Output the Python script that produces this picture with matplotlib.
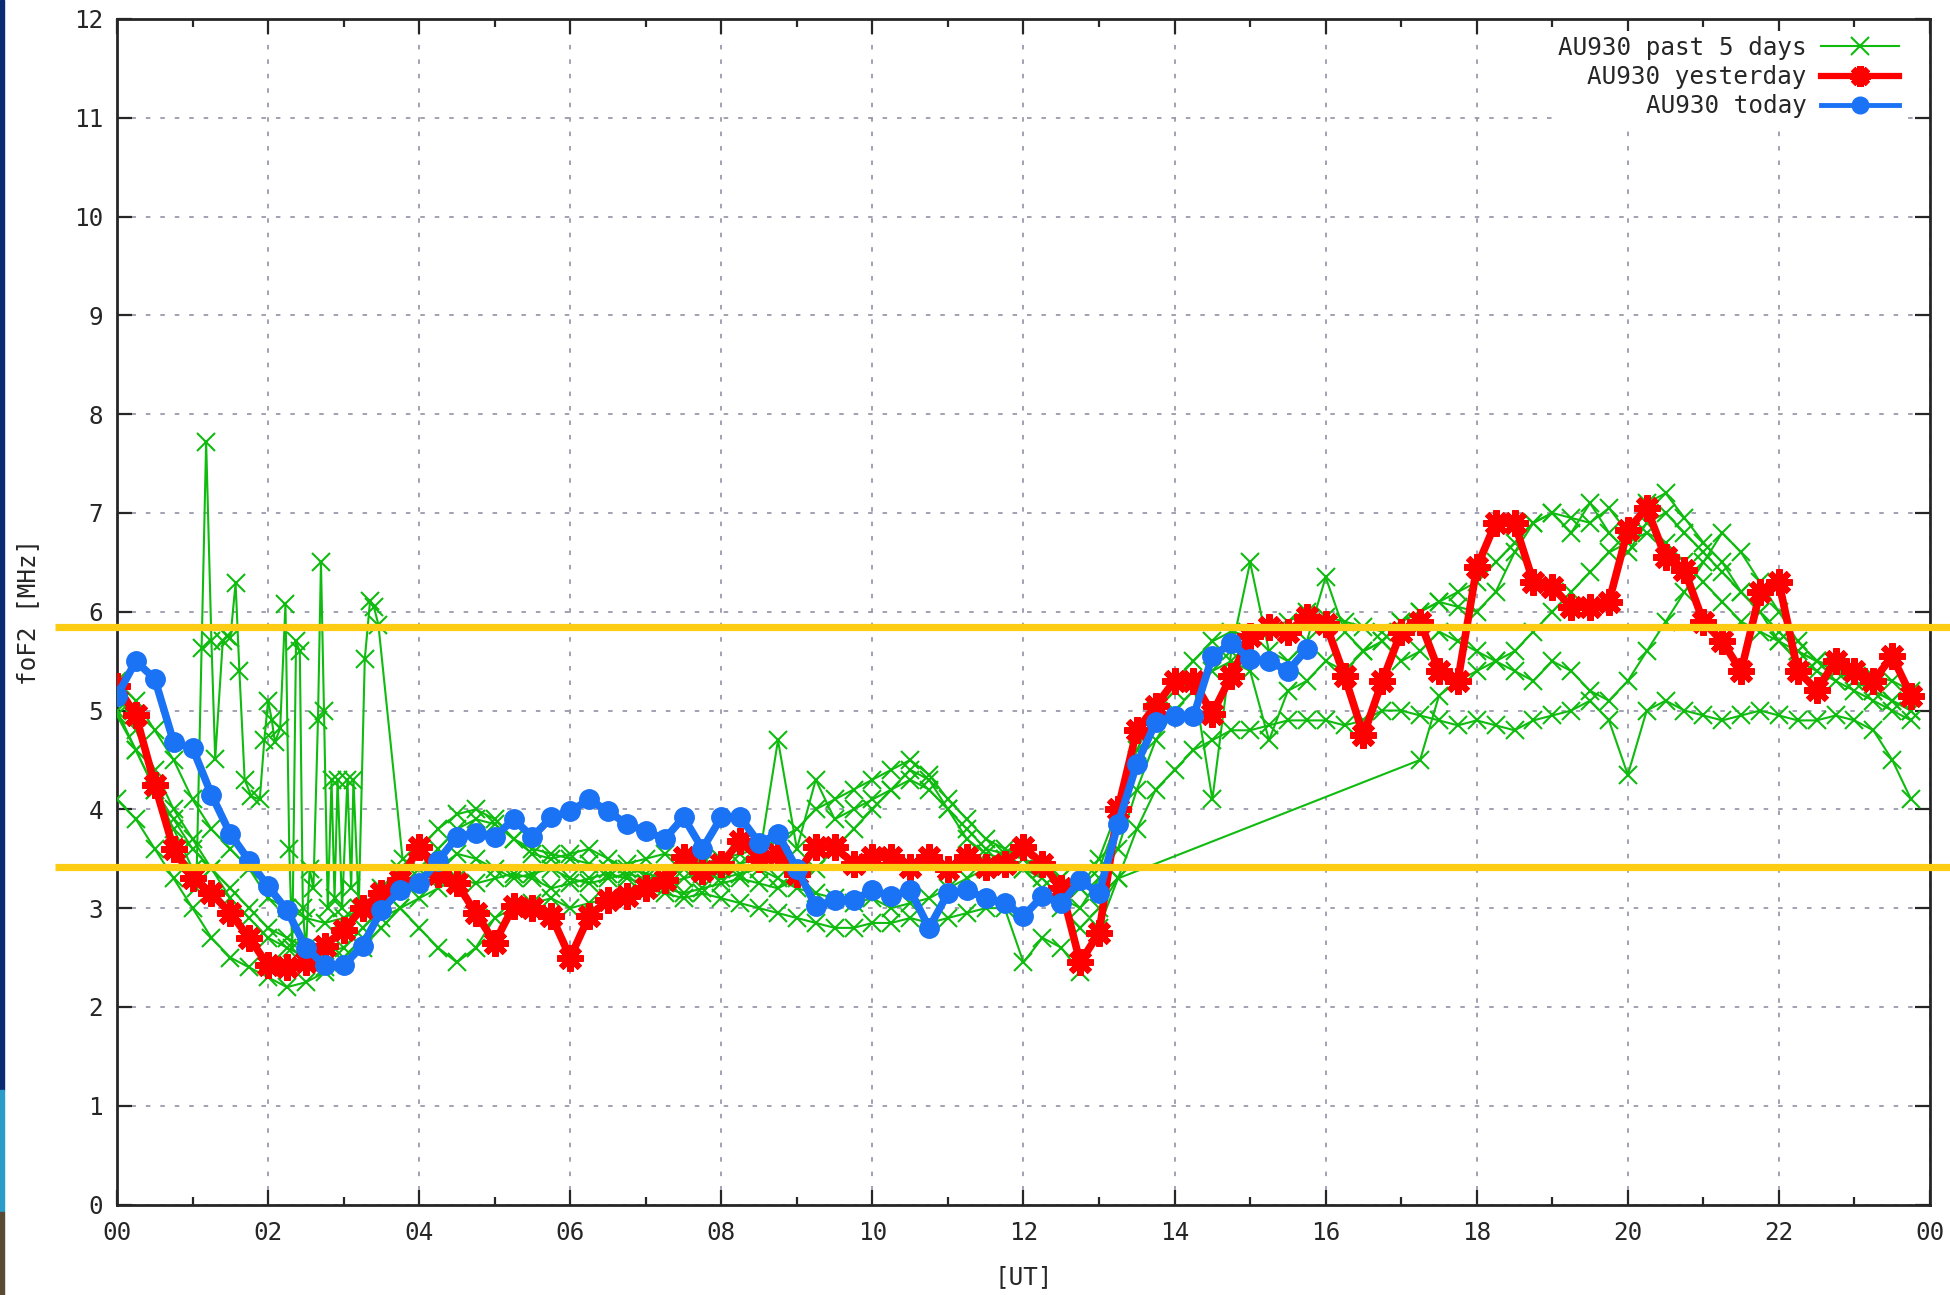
import matplotlib

matplotlib.use("Agg")

import matplotlib.pyplot as plt
import numpy as np
from matplotlib.patches import Rectangle

STEP = 0.25  # 15 minute cadence
HOURS = np.arange(0, 24, STEP)

# foF2 [MHz], today 00:00-15:45
TODAY = [
    5.15, 5.50, 5.32, 4.68, 4.62, 4.15, 3.75, 3.48,
    3.22, 2.98, 2.60, 2.42, 2.42, 2.62, 2.98, 3.18,
    3.25, 3.48, 3.72, 3.76, 3.72, 3.90, 3.72, 3.92,
    3.98, 4.10, 3.98, 3.85, 3.78, 3.70, 3.92, 3.60,
    3.92, 3.92, 3.66, 3.75, 3.40, 3.02, 3.08, 3.08,
    3.18, 3.12, 3.18, 2.80, 3.15, 3.18, 3.10, 3.05,
    2.92, 3.12, 3.05, 3.28, 3.15, 3.85, 4.46, 4.88,
    4.94, 4.94, 5.55, 5.68, 5.52, 5.50, 5.40, 5.62,
]

YESTERDAY = [
    5.25, 4.95, 4.25, 3.60, 3.30, 3.15, 2.95, 2.70,
    2.42, 2.40, 2.45, 2.62, 2.78, 3.00, 3.15, 3.28,
    3.62, 3.35, 3.25, 2.95, 2.65, 3.02, 3.00, 2.92,
    2.50, 2.92, 3.08, 3.12, 3.20, 3.28, 3.52, 3.38,
    3.45, 3.68, 3.50, 3.55, 3.35, 3.62, 3.62, 3.45,
    3.52, 3.52, 3.42, 3.52, 3.40, 3.52, 3.42, 3.45,
    3.62, 3.45, 3.20, 2.45, 2.75, 4.00, 4.80, 5.05,
    5.30, 5.30, 4.97, 5.35, 5.75, 5.85, 5.80, 5.95,
    5.88, 5.35, 4.75, 5.30, 5.80, 5.90, 5.40, 5.30,
    6.45, 6.90, 6.90, 6.30, 6.25, 6.05, 6.05, 6.10,
    6.83, 7.05, 6.55, 6.42, 5.90, 5.70, 5.40, 6.20,
    6.30, 5.40, 5.21, 5.50, 5.40, 5.30, 5.55, 5.15,
]

PAST_DAY1 = [
    5.30, 5.10, 4.80, 4.50, 4.10, 3.80, 3.60, 3.40,
    3.10, 3.00, 2.90, 2.85, 2.90, 3.00, 3.20, 3.40,
    3.60, 3.80, 3.95, 4.00, 3.90, 3.70, 3.60, 3.55,
    3.50, 3.45, 3.40, 3.45, 3.50, 3.55, 3.50, 3.45,
    3.50, 3.55, 3.60, 3.70, 3.80, 4.00, 4.10, 4.20,
    4.30, 4.40, 4.50, 4.35, 4.10, 3.90, 3.70, 3.60,
    3.50, 3.40, 3.30, 3.20, 3.40, 3.90, 4.50, 5.00,
    5.30, 5.50, 5.70, 5.80, 5.75, 5.85, 5.90, 6.00,
    5.95, 5.90, 5.85, 5.80, 5.90, 6.00, 6.10, 6.20,
    6.30, 6.50, 6.70, 6.90, 7.00, 6.95, 6.90, 7.05,
    6.80, 7.10, 7.20, 6.95, 6.70, 6.50, 6.20, 6.00,
    5.80, 5.60, 5.50, 5.45, 5.40, 5.35, 5.30, 5.20,
]

PAST_DAY2 = [
    4.10, 3.90, 3.60, 3.30, 3.00, 2.70, 2.50, 2.40,
    2.30, 2.20, 2.25, 2.35, 2.50, 2.70, 2.90, 3.00,
    2.80, 2.60, 2.45, 2.60, 2.90, 3.00, 3.05, 3.10,
    3.00, 3.05, 3.10, 3.15, 3.20, 3.15, 3.10, 3.15,
    3.10, 3.05, 3.00, 2.95, 2.90, 2.85, 2.80, 2.80,
    2.85, 2.85, 2.90, 2.85, 2.90, 2.95, 3.00, 3.00,
    2.45, 2.70, 2.60, 2.35, 2.80, 3.30, 3.80, 4.20,
    4.40, 4.60, 4.70, 4.80, 4.80, 4.85, 4.90, 4.90,
    4.90, 4.85, 4.90, 5.00, 5.00, 4.95, 4.90, 4.85,
    4.90, 4.85, 4.80, 4.90, 4.95, 5.00, 5.10, 4.90,
    4.35, 5.00, 5.10, 5.00, 4.95, 4.90, 4.95, 5.00,
    4.95, 4.90, 4.90, 4.95, 4.90, 4.80, 4.50, 4.10,
]

PAST_DAY3 = [
    5.00, 4.60, 4.20, 3.90, 3.60, 3.40, 3.20, 3.00,
    2.80, 2.70, 2.60, 2.55, 2.60, 2.80, 3.00, 3.20,
    3.30, 3.40, 3.55, 3.50, 3.40, 3.30, 3.35, 3.40,
    3.30, 3.25, 3.30, 3.35, 3.30, 3.25, 3.30, 3.35,
    3.30, 3.35, 3.40, 3.30, 3.20, 3.15, 3.10, 3.05,
    3.10, 3.00, 3.05, 3.10, 3.20, 3.30, 3.40, 3.50,
    3.40, 3.30, 3.10, 3.00, 3.30, 3.60, 4.20, 4.70,
    5.00, 5.20, 5.40, 5.50, 5.40, 4.70, 5.20, 5.30,
    5.50, 5.40, 5.60, 5.70, 5.50, 5.60, 5.80, 5.70,
    5.60, 5.50, 5.40, 5.30, 5.50, 5.40, 5.20, 5.10,
    5.30, 5.60, 5.90, 6.20, 6.50, 6.80, 6.60, 6.30,
    6.00, 5.70, 5.50, 5.40, 5.30, 5.20, 5.10, 5.00,
]

# day 4 has no soundings between 13:15 and 17:15
PAST_DAY4_AM = [
    5.20, 4.80, 4.40, 4.00, 3.70, 3.40, 3.10, 2.90,
    2.70, 2.60, 2.50, 2.40, 2.45, 2.60, 2.80, 3.00,
    3.10, 3.20, 3.30, 3.25, 3.30, 3.35, 3.30, 3.20,
    3.25, 3.30, 3.35, 3.30, 3.25, 3.20, 3.15, 3.20,
    3.25, 3.30, 3.25, 3.20, 3.30, 3.40, 3.60, 3.80,
    4.00, 4.20, 4.30, 4.20, 4.00, 3.70, 3.55, 3.50,
    3.40, 3.20, 3.00, 2.80, 3.00, 3.30,
]
PAST_DAY4_PM = [
    4.50, 5.15, 5.30,
    5.40, 5.50, 5.60, 5.80, 6.00, 6.20, 6.40, 6.60,
    6.70, 6.80, 6.70, 6.50, 6.30, 6.10, 5.90, 5.80,
    5.70, 5.60, 5.50, 5.40, 5.30, 5.20, 5.10, 5.00,
]

# day 5: spread-F spikes, 5 minute soundings from 01:00 to 04:00
PAST_DAY5_AM = [4.95, 4.60, 4.20, 3.80, 3.40]
PAST_DAY5_SPIKE_HOURS = [
    1.05, 1.12, 1.18, 1.25, 1.30, 1.40, 1.45, 1.50, 1.57, 1.62,
    1.69, 1.78, 1.89, 1.95, 2.00, 2.05, 2.09, 2.16, 2.23, 2.28,
    2.32, 2.37, 2.42, 2.46, 2.50, 2.55, 2.60, 2.66, 2.70, 2.74,
    2.79, 2.84, 2.88, 2.92, 2.98, 3.05, 3.10, 3.13, 3.20, 3.28,
    3.35, 3.40, 3.46, 3.78,
]
PAST_DAY5_SPIKE = [
    3.20, 5.63, 7.72, 5.70, 4.51, 5.70, 5.75, 5.73, 6.29, 5.40,
    4.30, 4.13, 4.10, 4.70, 5.10, 4.90, 4.68, 4.82, 6.08, 3.60,
    2.60, 5.70, 5.60, 3.00, 2.55, 3.40, 3.20, 4.90, 6.50, 5.00,
    3.00, 4.30, 3.10, 4.30, 3.00, 4.30, 3.20, 4.30, 3.00, 5.52,
    6.11, 6.05, 5.87, 3.50,
]
PAST_DAY5_PM = [
    3.40, 3.60, 3.80, 3.90, 3.85, 3.70, 3.55, 3.50,
    3.55, 3.60, 3.50, 3.40, 3.35, 3.30, 3.40, 3.50,
    3.40, 3.45, 3.50, 4.70, 3.60, 4.30, 3.90, 4.00,
    4.10, 4.20, 4.40, 4.30, 4.00, 3.80, 3.60, 3.55,
    3.50, 3.40, 3.30, 3.20, 3.50, 4.00, 4.60, 5.00,
    5.20, 5.30, 4.10, 5.60, 6.50, 5.60, 5.50, 5.70,
    6.35, 5.80, 5.60, 5.70, 5.90, 6.00, 6.10, 6.05,
    6.00, 6.20, 6.60, 6.90, 7.00, 6.80, 7.10, 6.80,
    6.60, 6.90, 7.00, 6.80, 6.60, 6.40, 6.20, 6.00,
    5.70, 5.50, 5.40, 5.30, 5.20, 5.10, 5.00, 4.90,
]

LIMITS = [5.85, 3.42]

GREEN = "#10bb10"
RED = "#ff0000"
BLUE = "#1a72f5"
YELLOW = "#ffcc14"
INK = "#262626"
FONT = "DejaVu Sans Mono"
FONTSIZE = 17.5


def past_days() -> list[tuple[np.ndarray, list[float]]]:
    day4_hours = np.concatenate([HOURS[:len(PAST_DAY4_AM)], HOURS[-len(PAST_DAY4_PM):]])
    day5_hours = np.concatenate([HOURS[:len(PAST_DAY5_AM)], PAST_DAY5_SPIKE_HOURS,
                                 HOURS[-len(PAST_DAY5_PM):]])
    return [
        (HOURS, PAST_DAY1),
        (HOURS, PAST_DAY2),
        (HOURS, PAST_DAY3),
        (day4_hours, PAST_DAY4_AM + PAST_DAY4_PM),
        (day5_hours, PAST_DAY5_AM + PAST_DAY5_SPIKE + PAST_DAY5_PM),
    ]


def main() -> None:
    plt.rcParams["font.family"] = [FONT, "DejaVu Sans"]
    fig = plt.figure(figsize=(19.5, 12.95), dpi=100, facecolor="white")
    ax = fig.add_axes([117 / 1950, 1 - 1204.5 / 1295, 1813 / 1950, 1185.5 / 1295])

    for i, (hours, values) in enumerate(past_days()):
        ax.plot(hours, values, color=GREEN, lw=1.5, marker="x", ms=12.5, mew=1.5,
                label="AU930 past 5 days" if i == 0 else None, zorder=3)

    ax.plot(HOURS, YESTERDAY, color=RED, lw=5.5, marker=(8, 2, 0), ms=19, mew=4.5,
            label="AU930 yesterday", zorder=4)
    ax.plot(HOURS[:len(TODAY)], TODAY, color=BLUE, lw=5.5, marker="o", ms=14,
            mec=BLUE, label="AU930 today", zorder=5)

    # threshold bands, drawn across the full width of the panel
    for level in LIMITS:
        ax.plot([-0.034, 1.02], [level, level], color=YELLOW, lw=5.2,
                transform=ax.get_yaxis_transform(), clip_on=False, zorder=6,
                solid_capstyle="butt")

    ax.set_xlim(0, 24)
    ax.set_ylim(0, 12)
    ax.set_xticks(np.arange(0, 25, 2))
    ax.set_xticklabels([f"{h % 24:02d}" for h in range(0, 25, 2)])
    ax.set_xticks(np.arange(1, 24, 2), minor=True)
    ax.set_yticks(np.arange(0, 13, 1))

    ax.tick_params(which="both", direction="in", top=True, right=True,
                   colors=INK, labelsize=FONTSIZE)
    ax.tick_params(which="major", length=11, width=1.6)
    ax.tick_params(which="minor", length=6, width=1.6)
    ax.tick_params(axis="x", which="major", pad=12)
    ax.tick_params(axis="y", which="major", pad=10)
    for spine in ax.spines.values():
        spine.set_linewidth(2.0)
        spine.set_color(INK)

    ax.grid(True, which="major", color="#9a9aac", lw=1.3, linestyle=(0, (2.5, 5.5)))
    ax.set_axisbelow(True)

    ax.set_xlabel("[UT]", fontsize=FONTSIZE, color=INK, labelpad=14)
    ax.set_ylabel("foF2 [MHz]", fontsize=FONTSIZE, color=INK, labelpad=24)

    leg = ax.legend(loc="upper right", bbox_to_anchor=(0.9857, 0.99),
                    markerfirst=False, fontsize=FONTSIZE, frameon=True, fancybox=False,
                    handlelength=3.2, handletextpad=0.6, labelspacing=0.22,
                    borderpad=0.2, borderaxespad=0)
    leg.get_frame().set_facecolor("white")
    leg.get_frame().set_edgecolor("none")
    leg.get_frame().set_alpha(1)
    for text in leg.get_texts():
        text.set_color(INK)
    for handle in leg.legend_handles:
        if handle.get_color() == RED:
            handle.set_markersize(15)
            handle.set_linewidth(4.5)
        elif handle.get_color() == BLUE:
            handle.set_markersize(12)
            handle.set_linewidth(3.5)

    # window edge at the left border
    fig.patches.append(Rectangle((0, 1 - 1090 / 1295), 3.5 / 1950, 1090 / 1295,
                                 transform=fig.transFigure, color="#0b2a73", zorder=10))
    fig.patches.append(Rectangle((0, 1 - 1212 / 1295), 3.5 / 1950, 122 / 1295,
                                 transform=fig.transFigure, color="#2a9cc9", zorder=10))
    fig.patches.append(Rectangle((0, 0), 3.5 / 1950, 83 / 1295,
                                 transform=fig.transFigure, color="#5b4a33", zorder=10))

    fig.savefig("out.png", dpi=100, facecolor="white")


if __name__ == "__main__":
    main()
